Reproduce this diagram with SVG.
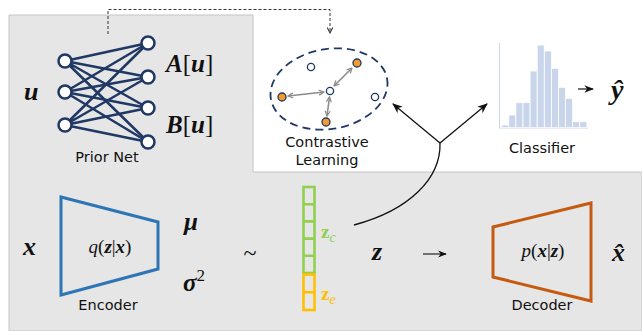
<svg xmlns="http://www.w3.org/2000/svg" width="642" height="331" viewBox="0 0 642 331">
<style>
.lbl{font-family:"DejaVu Sans","Liberation Sans",sans-serif;font-size:14.5px;fill:#111}
.math{font-family:"Liberation Serif","DejaVu Serif",serif;font-weight:bold;font-style:italic;fill:#111}
.mreg{font-family:"Liberation Serif","DejaVu Serif",serif;fill:#111}
.nn{stroke:#203864;stroke-width:2.5;fill:none}
.node{stroke:#203864;stroke-width:2.5;fill:#fff}
.bar{fill:#c9d5ea;stroke:#fff;stroke-width:0.8}
.ga{stroke:#8c8c8c;stroke-width:1.6;marker-start:url(#gah);marker-end:url(#gah)}
.pt{stroke:#203864;stroke-width:1.3}
</style>
<defs>
<marker id="gah" viewBox="0 0 10 10" refX="9" refY="5" markerWidth="4" markerHeight="4" orient="auto-start-reverse" markerUnits="strokeWidth">
<path d="M1,1 L9,5 L1,9" fill="none" stroke="#8c8c8c" stroke-width="2"/>
</marker>
<marker id="bah" viewBox="0 0 10 10" refX="9" refY="5" markerWidth="8" markerHeight="8" orient="auto" markerUnits="strokeWidth">
<path d="M0,1 L10,5 L0,9 L3,5 Z" fill="#111"/>
</marker>
<marker id="dah" viewBox="0 0 10 10" refX="9" refY="5" markerWidth="7" markerHeight="7" orient="auto" markerUnits="strokeWidth">
<path d="M1,1 L9,5 L1,9" fill="none" stroke="#333" stroke-width="1.5"/>
</marker>
</defs>

<path id="bg" d="M9,15 H253 V172 H642 V331 H9 Z" fill="#e6e6e6" stroke="#c4c4c4" stroke-width="1"/>

<g id="prior-net">
<g class="nn">
<path d="M65,61 L148,43 M65,61 L148,77 M65,61 L148,108 M65,61 L148,142"/>
<path d="M65,92 L148,43 M65,92 L148,77 M65,92 L148,108 M65,92 L148,142"/>
<path d="M65,125 L148,43 M65,125 L148,77 M65,125 L148,108 M65,125 L148,142"/>
</g>
<circle class="node" cx="65" cy="61" r="6.5"/>
<circle class="node" cx="65" cy="92" r="6.5"/>
<circle class="node" cx="65" cy="125" r="6.5"/>
<circle class="node" cx="148" cy="43" r="6.5"/>
<circle class="node" cx="148" cy="77" r="6.5"/>
<circle class="node" cx="148" cy="108" r="6.5"/>
<circle class="node" cx="148" cy="142" r="6.5"/>
<text class="lbl" x="107" y="162" text-anchor="middle">Prior Net</text>
</g>
<text id="u" class="math" x="24" y="100" font-size="26">u</text>
<text id="Au" x="166" y="72" font-size="25"><tspan class="math">A</tspan><tspan class="mreg">[</tspan><tspan class="math">u</tspan><tspan class="mreg">]</tspan></text>
<text id="Bu" x="166" y="133" font-size="25"><tspan class="math">B</tspan><tspan class="mreg">[</tspan><tspan class="math">u</tspan><tspan class="mreg">]</tspan></text>

<g id="contrastive">
<ellipse cx="329" cy="89" rx="59" ry="40" transform="rotate(-10 329 89)" fill="none" stroke="#203864" stroke-width="1.8" stroke-dasharray="8,5"/>
<line class="ga" x1="324" y1="92" x2="288" y2="96"/>
<line class="ga" x1="334" y1="86" x2="352" y2="68"/>
<line class="ga" x1="329.5" y1="97" x2="327" y2="116"/>
<circle class="pt" cx="330" cy="91" r="3.6" fill="#fff"/>
<circle class="pt" cx="311" cy="67" r="3.6" fill="#fff"/>
<circle class="pt" cx="375" cy="97" r="3.6" fill="#fff"/>
<circle class="pt" cx="282" cy="97" r="4" fill="#f39c2e"/>
<circle class="pt" cx="357" cy="63" r="4" fill="#f39c2e"/>
<circle class="pt" cx="326" cy="122" r="4" fill="#f39c2e"/>
<text class="lbl" x="327" y="147" text-anchor="middle">Contrastive</text>
<text class="lbl" x="327" y="165" text-anchor="middle">Learning</text>
</g>

<g id="classifier">
<g stroke="#c9d5ea" stroke-width="1">
<line x1="499.5" y1="43" x2="499.5" y2="128"/>
<line x1="499" y1="128" x2="588" y2="128"/>
</g>
<rect class="bar" x="501.7" y="125" width="7.1" height="2.7"/>
<rect class="bar" x="508.8" y="115" width="7.1" height="12.7"/>
<rect class="bar" x="515.9" y="102.7" width="7.1" height="25"/>
<rect class="bar" x="523" y="102.7" width="7.1" height="25"/>
<rect class="bar" x="530.1" y="71" width="7.1" height="56.7"/>
<rect class="bar" x="537.2" y="45" width="7.1" height="82.7"/>
<rect class="bar" x="544.3" y="51" width="7.1" height="76.7"/>
<rect class="bar" x="551.4" y="68.3" width="7.1" height="59.4"/>
<rect class="bar" x="558.5" y="87.3" width="7.1" height="40.4"/>
<rect class="bar" x="565.6" y="98.3" width="7.1" height="29.4"/>
<rect class="bar" x="572.7" y="121.7" width="7.1" height="6"/>
<rect class="bar" x="579.8" y="121.7" width="7.1" height="6"/>
<text class="lbl" x="542" y="153" text-anchor="middle">Classifier</text>
</g>
<text id="yhat" class="math" x="611" y="99" font-size="28">ŷ</text>

<g id="latent">
<rect x="303.5" y="187" width="11" height="86" fill="none" stroke="#92d050" stroke-width="2.6"/>
<path d="M303.5,204.2 H314.5 M303.5,221.4 H314.5 M303.5,238.6 H314.5 M303.5,255.8 H314.5" stroke="#92d050" stroke-width="2.6"/>
<rect x="303.5" y="274.5" width="11" height="35.5" fill="none" stroke="#ffc000" stroke-width="2.6"/>
<path d="M303.5,292.2 H314.5" stroke="#ffc000" stroke-width="2.6"/>
<text x="321" y="238" font-size="19"><tspan class="math" style="fill:#92d050;font-style:normal">z</tspan><tspan class="mreg" style="fill:#92d050;font-style:italic" font-size="14" dy="4">c</tspan></text>
<text x="321" y="300" font-size="19"><tspan class="math" style="fill:#ffc000;font-style:normal">z</tspan><tspan class="mreg" style="fill:#ffc000;font-style:italic" font-size="14" dy="4">e</tspan></text>
</g>

<g id="encoder">
<path d="M61,197 L158,222 L158,269 L61,295 Z" fill="none" stroke="#2e75b6" stroke-width="3" stroke-linejoin="miter"/>
<text x="110" y="253" font-size="19" text-anchor="middle"><tspan class="mreg" font-style="italic">q</tspan><tspan class="mreg">(</tspan><tspan class="math">z</tspan><tspan class="mreg">|</tspan><tspan class="math">x</tspan><tspan class="mreg">)</tspan></text>
<text class="lbl" x="108" y="310" text-anchor="middle">Encoder</text>
</g>
<text id="x" class="math" x="23" y="255" font-size="26">x</text>
<text id="mu" class="math" x="184" y="230" font-size="25">μ</text>
<text id="sigma" x="183" y="291" font-size="25"><tspan class="math">σ</tspan><tspan class="mreg" font-size="17" dy="-10">2</tspan></text>
<text id="tilde" class="mreg" x="250" y="261" font-size="24" text-anchor="middle">~</text>
<text id="z" class="math" x="372" y="260" font-size="26">z</text>

<g id="decoder">
<path d="M493,227 L591,203 L591,301 L493,277 Z" fill="none" stroke="#c55a11" stroke-width="3" stroke-linejoin="miter"/>
<text x="543" y="257" font-size="19" text-anchor="middle"><tspan class="mreg" font-style="italic">p</tspan><tspan class="mreg">(</tspan><tspan class="math">x</tspan><tspan class="mreg">|</tspan><tspan class="math">z</tspan><tspan class="mreg">)</tspan></text>
<text class="lbl" x="542" y="310" text-anchor="middle">Decoder</text>
</g>
<text id="xhat" class="math" x="612" y="261" font-size="26">x̂</text>

<g id="connectors" fill="none">
<path d="M108,34 V9.5 H330 V33" stroke="#333" stroke-width="1" stroke-dasharray="3,2" marker-end="url(#dah)"/>
<path d="M354,225 C410,210 441,178 440,143" stroke="#111" stroke-width="1.3"/>
<line x1="440" y1="143" x2="393" y2="104" stroke="#111" stroke-width="1.3" marker-end="url(#bah)"/>
<line x1="440" y1="143" x2="487" y2="104" stroke="#111" stroke-width="1.3" marker-end="url(#bah)"/>
<line x1="578" y1="89" x2="593" y2="89" stroke="#111" stroke-width="1.2" marker-end="url(#bah)"/>
<line x1="423" y1="254" x2="446" y2="254" stroke="#111" stroke-width="1.1" marker-end="url(#bah)"/>
</g>
</svg>
